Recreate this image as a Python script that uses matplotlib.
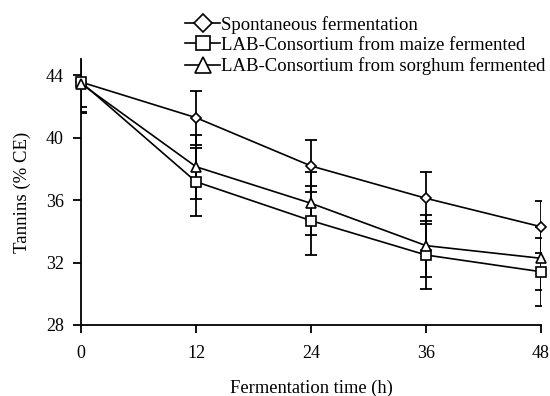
import numpy as np
import matplotlib.pyplot as plt

plt.rcParams['font.family'] = ['Liberation Serif', 'DejaVu Serif']

# fermentation time (h)
time = [0, 12, 24, 36, 48]

# tannins (% CE)
spont = [43.55, 41.27, 38.18, 36.11, 34.29]
spont_err = [1.6, 1.73, 1.66, 1.66, 1.67]
maize = [43.55, 37.17, 34.68, 32.48, 31.41]
maize_err = [2.0, 2.17, 2.22, 2.18, 2.18]
sorghum = [43.45, 38.13, 35.79, 33.08, 32.27]
sorghum_err = [1.8, 2.05, 2.0, 1.98, 2.03]

labels = ['Spontaneous fermentation',
          'LAB-Consortium from maize fermented',
          'LAB-Consortium from sorghum fermented']

fig = plt.figure(figsize=(5.5, 3.96), dpi=100)
ax = fig.add_axes([0.1473, 0.1793, 0.8363, 0.6707])

series = [(spont, spont_err, 'D', 5.5), (maize, maize_err, 's', 7.5), (sorghum, sorghum_err, '^', 7.5)]
handles = []
for (y, e, m, ms), lab in zip(series, labels):
    ax.errorbar(time, y, yerr=e, fmt='none', ecolor='black', elinewidth=1.3,
                capsize=4, capthick=1.3, zorder=2)
    h, = ax.plot(time, y, color='black', lw=1.2, marker=m, ms=ms,
                 mfc='white', mec='black', mew=1.2, label=lab, zorder=3, clip_on=False)
    handles.append(h)

ax.set_xlim(0, 48)
ax.set_ylim(28, 45)
ax.set_xticks([0, 12, 24, 36, 48])
ax.set_yticks([28, 32, 36, 40, 44])
ax.spines['top'].set_visible(False)
ax.spines['right'].set_visible(False)
for s in ['left', 'bottom']:
    ax.spines[s].set_linewidth(1.3)
ax.tick_params(direction='out', length=5.5, width=1.3, labelsize=13, pad=7)
ax.tick_params(axis='x', pad=9)
ax.set_xlabel('Fermentation time (h)', fontsize=13.3)
ax.set_ylabel('Tannins (% CE)', fontsize=13.5)
ax.xaxis.set_label_coords(0.5, -0.205)
ax.yaxis.set_label_coords(-0.108, 0.5)

leg = fig.legend(handles=handles, labels=labels, loc='upper left',
                 bbox_to_anchor=(0.337, 0.96), frameon=False, fontsize=13.5,
                 handlelength=1.85, handletextpad=0.05, labelspacing=0.17,
                 borderpad=0, borderaxespad=0)
for lh, ms in zip(leg.legend_handles, [9.5, 10, 11]):
    lh.set_markersize(ms)

fig.savefig('out.png', dpi=100)
